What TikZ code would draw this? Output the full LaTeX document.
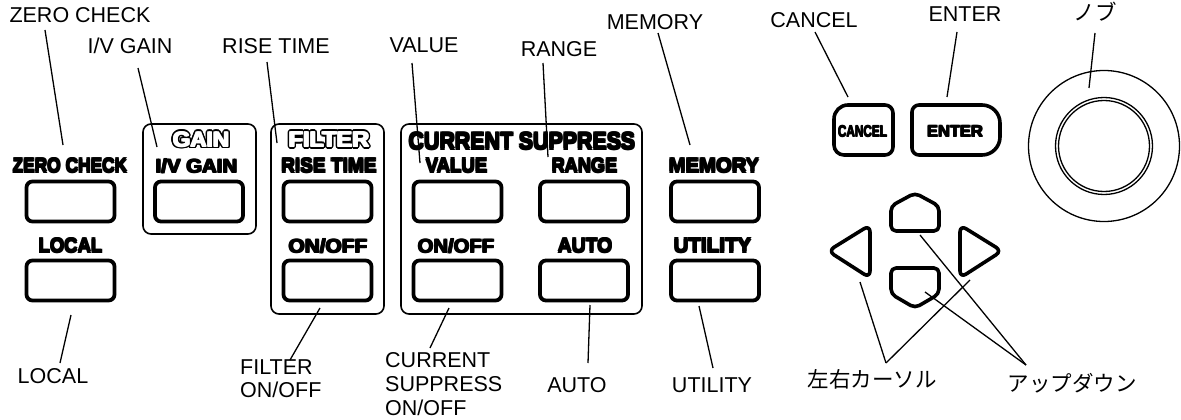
\documentclass[tikz,border=0pt]{standalone}
\usepackage{fontspec}
\usepackage{graphicx}
\setmainfont{Liberation Sans}
\newfontfamily\keyfont{Liberation Sans}
\newfontfamily\jpfont{Noto Sans CJK JP}
\usetikzlibrary{calc}

\tikzset{
  lbl/.style={font=\fontsize{21.5}{24}\selectfont, inner sep=0pt, anchor=base},
  jlbl/.style={font=\fontsize{21.5}{24}\selectfont\jpfont, inner sep=0pt, anchor=base},
  keylbl/.style={inner sep=0pt, anchor=base},
  keybtn/.style={draw, line width=3.8pt, rounded corners=6pt,
                 minimum width=88pt, minimum height=40pt, inner sep=0pt},
  grp/.style={draw, line width=1.6pt, rounded corners=8pt},
  leader/.style={line width=1.3pt},
  keyline/.style={line width=3.6pt, line join=round},
  ring/.style={line width=1.3pt},
}
% overprinted copies give the extra-heavy panel weight
\newcommand\heavy[1]{\rlap{#1}\rlap{\raisebox{.5pt}{#1}}\kern.7pt\rlap{\raisebox{.5pt}{#1}}#1}
% heavy panel lettering squeezed to a given width and cap height
\newcommand\kt[3]{\resizebox{#1pt}{#2pt}{\keyfont\bfseries\heavy{#3}}}
% outlined (hollow) panel heading: x, y, name, text
\newcommand\hollow[4]{%
  \foreach \a in {0,45,...,315}{\node[keylbl, text=black] at ($(#1,#2)+(\a:1.5)$) {#4};}
  \node[keylbl, text=white] (#3) at (#1,#2) {#4};}

\begin{document}
\begin{tikzpicture}[x=1pt, y=-1pt]
\useasboundingbox[fill=white] (0,0) rectangle (1181,420);

% ---- group frames ----
\draw[grp] (143,124) rectangle (256,234);
\draw[grp] (271,124) rectangle (384,314);
\draw[grp] (401,124) rectangle (642,314);

% ---- group headings ----
\hollow{201}{147.5}{hgain}{\kt{58}{16}{GAIN}}
\hollow{329}{147.5}{hfilter}{\kt{82}{16}{FILTER}}
\node[keylbl] (hcs) at (522,150) {\kt{228}{18}{CURRENT SUPPRESS}};

% ---- key captions ----
\node[keylbl] (kzc)  at (70,173)    {\kt{116}{15}{ZERO CHECK}};
\node[keylbl] (kiv)  at (196.5,173) {\kt{83}{15}{I/V GAIN}};
\node[keylbl] (krt)  at (329,173)   {\kt{97}{15}{RISE TIME}};
\node[keylbl] (kval) at (456.5,173) {\kt{63}{15}{VALUE}};
\node[keylbl] (krng) at (584.5,173) {\kt{67}{15}{RANGE}};
\node[keylbl] (kmem) at (714,173)   {\kt{92}{15}{MEMORY}};
\node[keylbl] (kloc) at (70.5,253)  {\kt{65}{15}{LOCAL}};
\node[keylbl] (kfon) at (328,253)   {\kt{80}{15}{ON/OFF}};
\node[keylbl] (kcon) at (456,253)   {\kt{78}{15}{ON/OFF}};
\node[keylbl] (kaut) at (585,253)   {\kt{56}{15}{AUTO}};
\node[keylbl] (kutl) at (712.5,253) {\kt{79}{15}{UTILITY}};

% ---- keys ----
\node[keybtn] (bzc)  at (70.5,201.5) {};
\node[keybtn] (biv)  at (199,201.5)  {};
\node[keybtn] (brt)  at (327.5,201.5) {};
\node[keybtn] (bval) at (457.5,201.5) {};
\node[keybtn] (brng) at (584,201.5)  {};
\node[keybtn] (bmem) at (715,201.5)  {};
\node[keybtn] (bloc) at (70.5,280.5) {};
\node[keybtn] (bfon) at (327.5,280.5) {};
\node[keybtn] (bcon) at (457.5,280.5) {};
\node[keybtn] (baut) at (584,280.5)  {};
\node[keybtn] (butl) at (715,280.5)  {};

% ---- CANCEL / ENTER ----
\draw[keyline] (848,105) -- (885,105) arc[start angle=270, end angle=360, radius=8]
  -- (893,147) arc[start angle=0, end angle=90, radius=8]
  -- (844,155) arc[start angle=90, end angle=180, radius=10]
  -- (834,119) arc[start angle=180, end angle=270, radius=14] -- cycle;
\node[keylbl] (kcan) at (862.5,137) {\kt{50}{12}{CANCEL}};
\draw[keyline] (919,105) -- (982,105) arc[start angle=270, end angle=360, radius=18]
  -- (1000,137) arc[start angle=0, end angle=90, radius=18]
  -- (919,155) arc[start angle=90, end angle=180, radius=7]
  -- (912,112) arc[start angle=180, end angle=270, radius=7] -- cycle;
\node[keylbl] (kent) at (955,137) {\kt{57}{12}{ENTER}};

% ---- cursor keys ----
\draw[keyline, rounded corners=5pt] (915,231) -- (939,231) -- (939,206) -- (915,193)
  -- (891,206) -- (891,231) -- cycle;
\draw[keyline, rounded corners=5pt] (915,268) -- (939,268) -- (939,294) -- (915,308)
  -- (891,294) -- (891,268) -- cycle;
\draw[keyline, rounded corners=7pt] (870,251) -- (870,225) -- (828,251) -- (870,278) -- cycle;
\draw[keyline, rounded corners=7pt] (960,251) -- (960,225) -- (1002,251) -- (960,278) -- cycle;

% ---- knob ----
\draw[ring] (1104,146) circle[radius=75.5];
\draw[ring] (1104,146) circle[radius=48.5];
\draw[ring] (1104,146) circle[radius=45.5];

% ---- callout texts ----
\node[lbl] (lzc)  at (80,23)   {ZERO CHECK};
\node[lbl] (liv)  at (130,54)  {I/V GAIN};
\node[lbl] (lrt)  at (276,54)  {RISE TIME};
\node[lbl] (lval) at (424,53)  {VALUE};
\node[lbl] (lrng) at (559,57)  {RANGE};
\node[lbl] (lmem) at (655,30)  {MEMORY};
\node[lbl] (lcan) at (814,28)  {CANCEL};
\node[lbl] (lent) at (965,22)  {ENTER};
\node[jlbl] (lknb) at (1095,20.5) {ノブ};
\node[lbl] (lloc) at (53,383)  {LOCAL};
\node[lbl, anchor=north west, align=left, font=\fontsize{21.5}{23}\selectfont] (lfon) at (240,360) {FILTER\\ON/OFF};
\node[lbl, anchor=north west, align=left, font=\fontsize{21.5}{24}\selectfont] (lcon) at (385,352) {CURRENT\\SUPPRESS\\ON/OFF};
\node[lbl] (laut) at (577,392) {AUTO};
\node[lbl] (lutl) at (712,392) {UTILITY};
\node[jlbl] (llr) at (872,387) {左右カーソル};
\node[jlbl] (lud) at (1072,391) {アップダウン};

% ---- leader ends ----
\coordinate (c1a) at (45,30);    \coordinate (c1b) at (63,145);
\coordinate (c2a) at (138,68);   \coordinate (c2b) at (157,147);
\coordinate (c3a) at (267,62);   \coordinate (c3b) at (277,143);
\coordinate (c4a) at (412,63);   \coordinate (c4b) at (420,163);
\coordinate (c5a) at (543,63);   \coordinate (c5b) at (548,157);
\coordinate (c6a) at (658,33);   \coordinate (c6b) at (690,145);
\coordinate (c7a) at (815,32);   \coordinate (c7b) at (848,97);
\coordinate (c8a) at (957,32);   \coordinate (c8b) at (947,97);
\coordinate (c9a) at (1095,33);  \coordinate (c9b) at (1089,88);
\coordinate (d1a) at (71,315);   \coordinate (d1b) at (60,363);
\coordinate (d2a) at (320,308);  \coordinate (d2b) at (290,360);
\coordinate (d3a) at (449,308);  \coordinate (d3b) at (430,348);
\coordinate (d4a) at (590,305);  \coordinate (d4b) at (588,363);
\coordinate (d5a) at (699,306);  \coordinate (d5b) at (713,368);
\coordinate (eL) at (860,282);   \coordinate (eR) at (970,280);
\coordinate (eLR) at (886,363);
\coordinate (eU) at (920,235);   \coordinate (eD) at (925,292);
\coordinate (eUD) at (1026,365);

\foreach \p/\q in {c1a/c1b,c2a/c2b,c3a/c3b,c4a/c4b,c5a/c5b,c6a/c6b,c7a/c7b,c8a/c8b,c9a/c9b,
                   d1a/d1b,d2a/d2b,d3a/d3b,d4a/d4b,d5a/d5b,eL/eLR,eR/eLR,eU/eUD,eD/eUD}
  \draw[leader] (\p) -- (\q);
\end{tikzpicture}
\end{document}
